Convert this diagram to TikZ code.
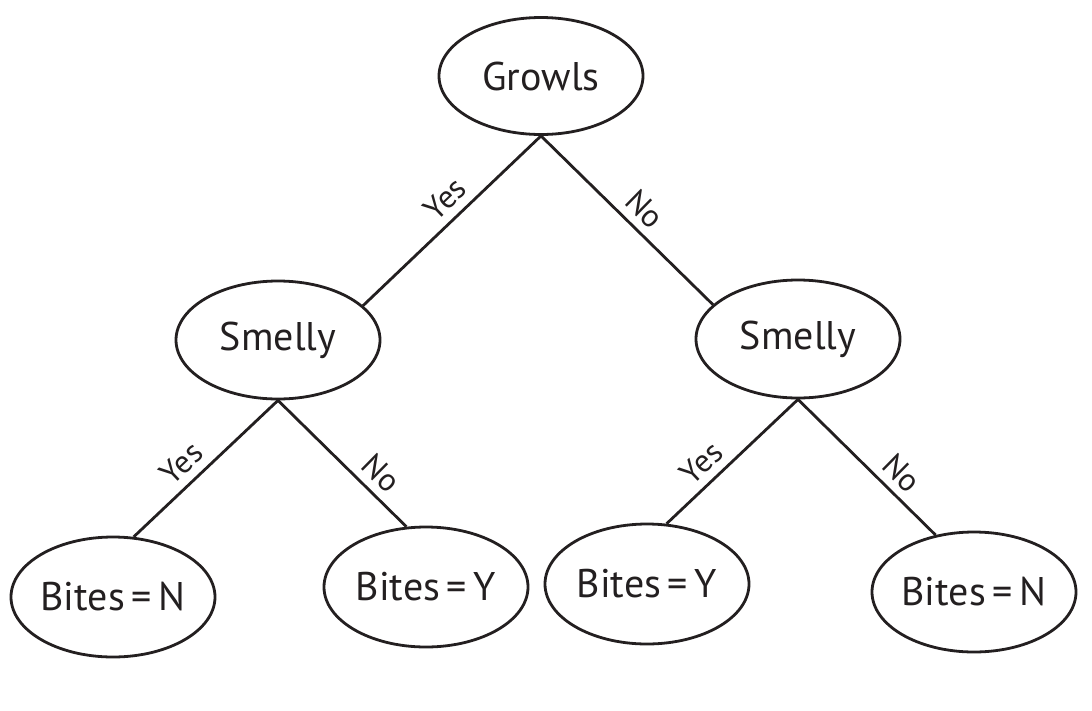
\documentclass[tikz,border=0pt]{standalone}
\usepackage{fontspec}
\setmainfont{PT Sans}
\usetikzlibrary{shapes.geometric}
\definecolor{ink}{RGB}{35,31,32}
\begin{document}
\begin{tikzpicture}[x=1pt,y=-1pt,
  every node/.style={text=ink},
  tnode/.style={ellipse,draw=ink,line width=2.8pt,inner xsep=-20pt,inner ysep=0pt,
    minimum width=204pt,minimum height=118pt,font=\fontsize{40}{44}\selectfont},
  leaf/.style={tnode,minimum height=120pt},
  conn/.style={draw=ink,line width=2.8pt},
  elab/.style={sloped,above=8pt,inner sep=0pt,font=\fontsize{32}{36}\selectfont}]
\useasboundingbox (0,0) rectangle (1092,710);
\node[tnode,minimum height=117pt] (g) at (541,76) {Growls};
\node[tnode] (sl) at (278,340) {Smelly};
\node[tnode] (sr) at (798,339) {Smelly};
\node[leaf] (bnl) at (113,597) {Bites\,=\,N};
\node[leaf] (byl) at (426,587) {Bites\,=\,Y};
\node[leaf] (byr) at (647,584) {Bites\,=\,Y};
\node[leaf] (bnr) at (974,592) {Bites\,=\,N};
\draw[conn] (g.south) -- node[elab,pos=0.46] (l1) {Yes} (sl.22);
\draw[conn] (g.south) -- node[elab,pos=0.52] (l2) {No} (sr.158);
\draw[conn] (sl.south) -- node[elab,pos=0.57] (l3) {Yes} (bnl.71);
\draw[conn] (sl.south) -- node[elab,pos=0.69] (l4) {No} (byl.108);
\draw[conn] (sr.south) -- node[elab,pos=0.63] (l5) {Yes} (byr.72);
\draw[conn] (sr.south) -- node[elab,pos=0.65] (l6) {No} (bnr.124);
\end{tikzpicture}
\end{document}
